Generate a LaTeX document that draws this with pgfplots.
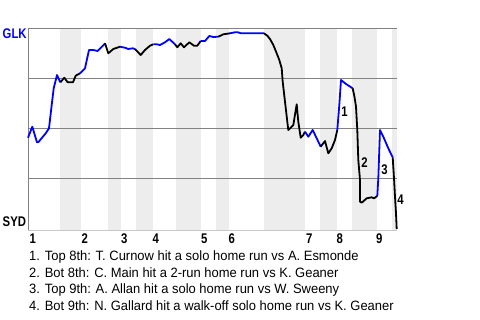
\documentclass[border=0pt]{standalone}
\usepackage{pgfplots}
\pgfplotsset{compat=1.18}
\usepackage{fontspec}
\setmainfont{Liberation Sans}
\newfontfamily\notefont{Liberation Sans}[FakeStretch=0.96]
\newfontfamily\labfont{Liberation Sans}[FakeStretch=0.81]
\definecolor{bandgray}{RGB}{237,237,237}
\definecolor{gridgray}{RGB}{130,130,130}
\definecolor{botgray}{RGB}{200,200,200}
\definecolor{glkblue}{RGB}{0,0,255}
\begin{document}
\begin{tikzpicture}
\useasboundingbox (0bp,0bp) rectangle (480bp,-320bp);
\begin{axis}[
  at={(28bp,-28bp)}, anchor=north west,
  scale only axis, width=369bp, height=202bp,
  xmin=28, xmax=397, ymin=28, ymax=230, y dir=reverse,
  hide axis,
  clip=false,
]
% half-inning bands (bottom halves)
\addplot[fill=bandgray, draw=none] coordinates {(60,28) (81,28) (81,230) (60,230)} --cycle;
\addplot[fill=bandgray, draw=none] coordinates {(108,28) (121,28) (121,230) (108,230)} --cycle;
\addplot[fill=bandgray, draw=none] coordinates {(136,28) (153,28) (153,230) (136,230)} --cycle;
\addplot[fill=bandgray, draw=none] coordinates {(176,28) (201,28) (201,230) (176,230)} --cycle;
\addplot[fill=bandgray, draw=none] coordinates {(216,28) (229,28) (229,230) (216,230)} --cycle;
\addplot[fill=bandgray, draw=none] coordinates {(264,28) (305,28) (305,230) (264,230)} --cycle;
\addplot[fill=bandgray, draw=none] coordinates {(320,28) (337,28) (337,230) (320,230)} --cycle;
\addplot[fill=bandgray, draw=none] coordinates {(352,28) (377,28) (377,230) (352,230)} --cycle;
\addplot[fill=bandgray, draw=none] coordinates {(392,28) (397,28) (397,230) (392,230)} --cycle;
% grid lines and axis pieces
\addplot[gridgray, line width=0.9bp] coordinates {(28,28) (397,28)};
\addplot[gridgray, line width=0.9bp] coordinates {(28,78) (397,78)};
\addplot[gridgray, line width=0.9bp] coordinates {(28,128) (397,128)};
\addplot[gridgray, line width=0.9bp] coordinates {(28,178) (397,178)};
\addplot[gridgray, line width=0.9bp] coordinates {(28,28) (28,230)};
\addplot[botgray, line width=0.9bp] coordinates {(28,230) (397,230)};
% win probability line, split by half-inning
\addplot[glkblue, line width=1.8bp, line join=round] coordinates {(28,137.7) (32.3,126.7) (37,142.3) (38.5,142) (45.7,133.3) (49,128.3) (51.7,105) (53.7,88.3) (57,75) (60.3,82.3)};
\addplot[black, line width=1.8bp, line join=round] coordinates {(60.3,82.3) (64.3,77.7) (67.7,82.3) (73,82.3) (75.7,75.7) (80,73.3)};
\addplot[glkblue, line width=1.8bp, line join=round] coordinates {(80,73.3) (85,68.3) (89,50) (93.3,50) (97.7,51) (104.3,44.3) (105,43.3)};
\addplot[black, line width=1.8bp, line join=round] coordinates {(105,43.3) (108.3,53.3) (113.3,49) (120,46.7)};
\addplot[glkblue, line width=1.8bp, line join=round] coordinates {(120,46.7) (122.7,47.3) (125,47.7) (128.3,49) (132.7,48.3) (135,49)};
\addplot[black, line width=1.8bp, line join=round] coordinates {(135,49) (140.7,55) (145,50) (150,45.7) (153.3,44.3)};
\addplot[glkblue, line width=1.8bp, line join=round] coordinates {(153.3,44.3) (156.7,44.3) (160,45) (165,42.3) (169.3,39) (175,44.3)};
\addplot[black, line width=1.8bp, line join=round] coordinates {(175,44.3) (177.3,47.3) (180.7,43.3) (184,47.3) (189.3,42.3) (194,45.7) (197.3,45.7) (200.7,41)};
\addplot[glkblue, line width=1.8bp, line join=round] coordinates {(200.7,41) (205,41) (209.3,36) (213.3,37) (218.3,36.7)};
\addplot[black, line width=1.8bp, line join=round] coordinates {(218.3,36.7) (223.3,34.3) (230,33.3)};
\addplot[glkblue, line width=1.8bp, line join=round] coordinates {(230,33.3) (235,32.3) (238,32.3) (241,33.3) (264,33.3)};
\addplot[black, line width=1.8bp, line join=round] coordinates {(264,33.3) (267.3,35.7) (270,39) (273.3,45) (276.7,53.3) (279.3,60) (281.7,68.3) (282.7,81.7) (285,101.7) (287.3,121.7) (288.3,130) (293.3,125) (296.7,104.3) (298.3,121.7) (300.7,137.7) (303.3,135) (305,131.7)};
\addplot[glkblue, line width=1.8bp, line join=round] coordinates {(305,131.7) (308.3,136.7) (312.7,130) (316.7,138.3) (320.7,146.7)};
\addplot[black, line width=1.8bp, line join=round] coordinates {(320.7,146.7) (325,141) (328.3,153.3) (331.7,148.3) (335,140) (337.3,130)};
\addplot[glkblue, line width=1.8bp, line join=round] coordinates {(337.3,130) (339.3,105) (341,80) (346,84) (352.7,88.3)};
\addplot[black, line width=1.8bp, line join=round] coordinates {(352.7,88.3) (354.5,97) (356,106.7) (357.3,130) (358.3,160) (360,180) (360,201.7) (361.7,202.7) (366.7,198.3) (371.7,197.3) (374,198.3) (377.3,196)};
\addplot[glkblue, line width=1.8bp, line join=round] coordinates {(377.3,196) (378.3,178.3) (380,130) (383.3,136.7) (388.3,148.3) (392.7,157.3)};
\addplot[black, line width=1.8bp, line join=round] coordinates {(392.7,157.3) (394,178.3) (395,196.7) (396,213.3) (396.7,229)};
\end{axis}
% event labels and side/bottom text
\begin{scope}[every node/.style={inner sep=0pt, font=\labfont\bfseries\fontsize{14bp}{16bp}\selectfont}]
\node at (344.5bp,-111.3bp) {1};
\node at (364.5bp,-163bp) {2};
\node at (384.5bp,-169.5bp) {3};
\node at (400.5bp,-200bp) {4};
\node[anchor=base west, text=glkblue] at (2.5bp,-38.5bp) {GLK};
\node[anchor=base west] at (2.5bp,-226bp) {SYD};
\node[anchor=base west] at (29.5bp,-243bp) {1};
\node[anchor=base west] at (81.5bp,-243bp) {2};
\node[anchor=base west] at (121bp,-243bp) {3};
\node[anchor=base west] at (152.5bp,-243bp) {4};
\node[anchor=base west] at (201bp,-243bp) {5};
\node[anchor=base west] at (228.5bp,-243bp) {6};
\node[anchor=base west] at (306bp,-243bp) {7};
\node[anchor=base west] at (336.5bp,-243bp) {8};
\node[anchor=base west] at (376bp,-243bp) {9};
\end{scope}
\begin{scope}[every node/.style={inner sep=0pt, anchor=base west, font=\notefont\fontsize{13.5bp}{16bp}\selectfont}]
\node at (29bp,-260.5bp) {1. Top 8th: T. Curnow hit a solo home run vs A. Esmonde};
\node at (29bp,-277.2bp) {2. Bot 8th: C. Main hit a 2-run home run vs K. Geaner};
\node at (29bp,-293.9bp) {3. Top 9th: A. Allan hit a solo home run vs W. Sweeny};
\node at (29bp,-310.6bp) {4. Bot 9th: N. Gallard hit a walk-off solo home run vs K. Geaner};
\end{scope}
\end{tikzpicture}
\end{document}
